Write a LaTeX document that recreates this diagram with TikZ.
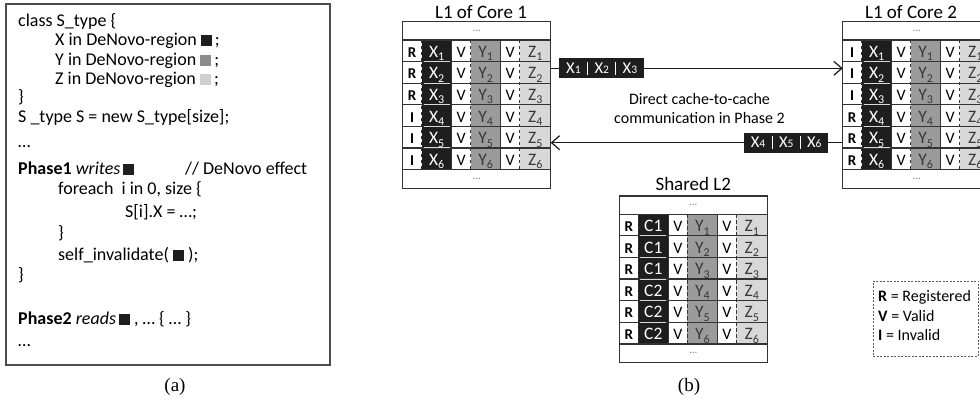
\documentclass[tikz,border=0pt]{standalone}
\usepackage{fontspec}
\setmainfont{Carlito}
\newfontfamily\capfont{Liberation Serif}
\usetikzlibrary{arrows.meta,calc}

\definecolor{xcol}{HTML}{1E1E1E}
\definecolor{ycol}{HTML}{9B9B9B}
\definecolor{zcol}{HTML}{D8D8D8}
\definecolor{gridcol}{HTML}{333333}
\definecolor{ytext}{HTML}{383838}
\definecolor{sqgray}{HTML}{8C8C8C}
\definecolor{sqlight}{HTML}{CFCFCF}

% font size in picture units (1pt = one unit)
\newcommand\fs[1]{\fontsize{#1}{#1}\selectfont}
% lowered index digit
\newcommand\sbs[1]{\raisebox{-3.5pt}{\fs{12}#1}}
% small digit on the baseline (message boxes)
\newcommand\msd[1]{{\fs{11.5}#1}}
% region marker square
\newcommand\blk[1]{\textcolor{#1}{\rule{11pt}{11pt}}}
\newcommand\dotsmark{\textcolor{gray}{\fs{11}...}}

\tikzset{
  cell/.style={inner sep=0pt, outer sep=0pt, minimum height=21.6pt,
               text height=13pt, text depth=0pt},
  stcell/.style={cell, minimum width=19pt, font=\fs{15}\bfseries},
  xcell/.style={cell, minimum width=30pt, fill=xcol, text=white, font=\fs{17.5}},
  vcell/.style={cell, minimum width=19pt, font=\fs{16}},
  ycell/.style={cell, minimum width=30pt, fill=ycol, text=ytext, font=\fs{17.5}},
  zcell/.style={cell, minimum width=31pt, fill=zcol, text=ytext, font=\fs{17.5}},
  dotcell/.style={inner sep=0pt, minimum width=148pt, minimum height=18pt},
  grid/.style={draw=gridcol, line width=1.2pt},
  xsep/.style={draw=white!85!black, line width=1pt},
  title/.style={font=\fs{19}, anchor=base},
  codeline/.style={anchor=base west, inner sep=0pt, font=\fs{18}},
  codebox/.style={draw=black!70, line width=1.2pt, minimum width=324pt,
                  minimum height=361pt, inner sep=0pt},
  msg/.style={fill=xcol, text=white, minimum width=28.23pt, minimum height=20pt,
              inner sep=0pt, outer sep=0pt, font=\fs{16.5}, text height=10.5pt, text depth=0pt},
  msgsep/.style={draw=white, line width=1.3pt},
  conn/.style={draw=black!90, line width=1.2pt},
  arr/.style={-{Straight Barb[length=8pt,width=14pt]}},
  legendbox/.style={draw=black!65, line width=0.9pt, dash pattern=on 2pt off 1.5pt,
                    minimum width=105pt, minimum height=75pt, inner sep=0pt},
  legtext/.style={anchor=base west, inner sep=0pt, font=\fs{16}},
  caption/.style={anchor=base, font=\capfont\fs{19}}
}

% cache table: #1 name, #2 left x, #3 top y, #4 rows as state/data
\newcommand\cachetab[4]{%
  \node[dotcell] (#1-top) at (#2+74,#3+9.15) {\dotsmark};
  \node[dotcell] (#1-bot) at (#2+74,#3+157.25) {\dotsmark};
  \foreach \st/\dt [count=\i] in {#4}{%
    \pgfmathsetmacro\yc{#3+29.1+(\i-1)*21.6}
    \node[stcell] (#1-s\i) at (#2+9.5,\yc) {\st};
    \node[xcell]  (#1-x\i) at (#2+34,\yc) {\dt};
    \node[vcell]  (#1-v\i) at (#2+58.5,\yc) {V};
    \node[ycell]  (#1-y\i) at (#2+83,\yc) {Y\sbs{\i}};
    \node[vcell]  (#1-w\i) at (#2+107.5,\yc) {V};
    \node[zcell]  (#1-z\i) at (#2+132.5,\yc) {Z\sbs{\i}};
  }
  \foreach \k in {0,...,6}
    \draw[grid] (#2,#3+18.3+\k*21.6) -- (#2+148,#3+18.3+\k*21.6);
  \foreach \k in {1,...,5}
    \draw[xsep] (#2+21,#3+18.3+\k*21.6) -- (#2+47,#3+18.3+\k*21.6);
  \foreach \xx in {49,98}
    \draw[grid] (#2+\xx,#3+18.3) -- (#2+\xx,#3+147.9);
  \foreach \xx in {19,68,117}
    \draw[grid, line width=1.4pt, dash pattern=on 3.5pt off 2.5pt]
      (#2+\xx,#3+18.3) -- (#2+\xx,#3+147.9);
  \draw[grid] (#2,#3) rectangle (#2+148,#3+166.6);
}

\begin{document}
\begin{tikzpicture}[x=1pt, y=-1pt]
\useasboundingbox (0,0) rectangle (980,403);
\clip (0,0) rectangle (980,403);

% ---------- (a) program ----------
\node[codebox] (code) at (168,184.5) {};
\node[codeline] (l1)  at (18,26.7)  {class S\_type \{};
\node[codeline] (l2)  at (55,45.7)  {X in DeNovo-region \blk{xcol}\,;};
\node[codeline] (l3)  at (55,65.7)  {Y in DeNovo-region \blk{sqgray}\,;};
\node[codeline] (l4)  at (55,85)    {Z in DeNovo-region \blk{sqlight}\,;};
\node[codeline] (l5)  at (18,103)   {\}};
\node[codeline] (l6)  at (18,123)   {S \_type S = new S\_type[size];};
\node[codeline] (l7)  at (18,148)   {…};
\node[codeline] (l8)  at (18,175)   {\textbf{Phase1} \textit{writes}\,\blk{xcol}};
\node[codeline] (l8b) at (185,175)  {// DeNovo effect};
\node[codeline] (l9)  at (58,195)   {foreach~ i in 0, size \{};
\node[codeline] (l10) at (125,218)  {S[i].X = …;};
\node[codeline] (l11) at (58,239)   {\}};
\node[codeline] (l12) at (58,261)   {self\_invalidate( \blk{xcol} );};
\node[codeline] (l13) at (18,281)   {\}};
\node[codeline] (l14) at (18,325)   {\textbf{Phase2} \textit{reads}\,\blk{xcol} , … \{ … \}};
\node[codeline] (l15) at (18,347)   {…};
\node[caption] (capa) at (175,391) {(a)};

% ---------- (b) caches ----------
\node[title] (t1) at (481,18.5) {L1 of Core 1};
\node[title] (t2) at (911,18.5) {L1 of Core 2};
\node[title] (t3) at (693.3,191) {Shared L2};

\cachetab{c1}{402.7}{21.7}{R/X\sbs{1},R/X\sbs{2},R/X\sbs{3},I/X\sbs{4},I/X\sbs{5},I/X\sbs{6}}
\cachetab{c2}{842.7}{21.7}{I/X\sbs{1},I/X\sbs{2},I/X\sbs{3},R/X\sbs{4},R/X\sbs{5},R/X\sbs{6}}
\cachetab{l2}{619.3}{196}{R/C1,R/C1,R/C1,R/C2,R/C2,R/C2}

% messages between the two L1 caches
\node[msg] (m1a) at (573.4,68.3) {X\msd{1}};
\node[msg] (m1b) at (601.7,68.3) {X\msd{2}};
\node[msg] (m1c) at (629.9,68.3) {X\msd{3}};
\node[msg] (m2a) at (758.1,142.7) {X\msd{4}};
\node[msg] (m2b) at (786.2,142.7) {X\msd{5}};
\node[msg] (m2c) at (814.3,142.7) {X\msd{6}};
\foreach \m in {m1a,m1b,m2a,m2b}
  \draw[msgsep] ($(\m.east)+(0,-6.5)$) -- ($(\m.east)+(0,6.5)$);

\draw[conn] (m1a.west) -- (m1a.west -| c1-z2.east);
\draw[conn,arr] (m1c.east) -- (m1c.east -| c2-s2.west);
\draw[conn] (m2c.east) -- (m2c.east -| c2-s5.west);
\draw[conn,arr] (m2a.west) -- (m2a.west -| c1-z5.east);

\node[align=center, font=\fs{16}, inner sep=0pt] (cc) at (699.5,109)
  {Direct cache-to-cache\\[3pt]communication in Phase 2};

% legend
\node[legendbox] (leg) at (925.9,318.5) {};
\node[legtext] (lr) at (878,301.7) {\textbf{R} = Registered};
\node[legtext] (lv) at (878,321.2) {\textbf{V} = Valid};
\node[legtext] (li) at (878,340.5) {\textbf{I} = Invalid};

\node[caption] (capb) at (689,391) {(b)};
\end{tikzpicture}
\end{document}
